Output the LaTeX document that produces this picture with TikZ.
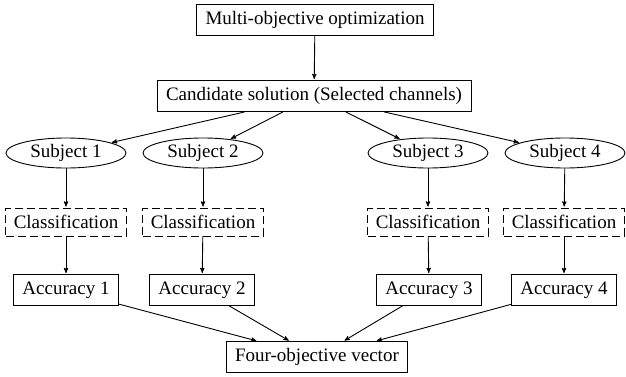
\documentclass[tikz,border=0pt]{standalone}
\usepackage{fontspec}
\setmainfont{Liberation Serif}
\usepackage{tikz}
\usetikzlibrary{shapes,arrows}

\begin{document}
\begin{tikzpicture}[->,>=stealth',shorten >=1pt,x=1pt,y=1pt,line width=0.9pt]
\tikzstyle{every node}=[font=\fontsize{19}{22}\selectfont,text=black]
\tikzstyle{block}=[draw,rectangle,inner xsep=9pt,inner ysep=4pt,minimum height=31pt]
\tikzstyle{clsbox}=[draw,rectangle,dash pattern=on 8pt off 4pt,inner xsep=8pt,inner ysep=3pt,minimum height=28pt]
\tikzstyle{subj}=[draw,ellipse,inner sep=0pt,minimum width=120pt,minimum height=30pt]
\useasboundingbox (0,0) rectangle (626,376);
\node[block] (opt) at (315,356) {Multi-objective optimization};
\node[block] (cand) at (314,280) {Candidate solution (Selected channels)};
\node[subj] (S1) at (66,223) {Subject 1};
\node[subj] (S2) at (203,223) {Subject 2};
\node[subj] (S3) at (428,223) {Subject 3};
\node[subj] (S4) at (565,223) {Subject 4};
\node[clsbox] (C1) at (66,154) {Classification};
\node[clsbox] (C2) at (203,154) {Classification};
\node[clsbox] (C3) at (428,154) {Classification};
\node[clsbox] (C4) at (564,154) {Classification};
\node[block] (A1) at (66,86) {Accuracy 1};
\node[block] (A2) at (202,86) {Accuracy 2};
\node[block] (A3) at (429,86) {Accuracy 3};
\node[block] (A4) at (564,86) {Accuracy 4};
\node[block] (vec) at (317,19) {Four-objective vector};
\path (opt) edge (cand)
      (cand) edge (S1)
             edge (S2)
             edge (S3)
             edge (S4)
      (S1) edge (C1)
      (S2) edge (C2)
      (S3) edge (C3)
      (S4) edge (C4)
      (C1) edge (A1)
      (C2) edge (A2)
      (C3) edge (A3)
      (C4) edge (A4)
      (A1) edge (vec)
      (A2) edge (vec)
      (A3) edge (vec)
      (A4) edge (vec);
\end{tikzpicture}
\end{document}
